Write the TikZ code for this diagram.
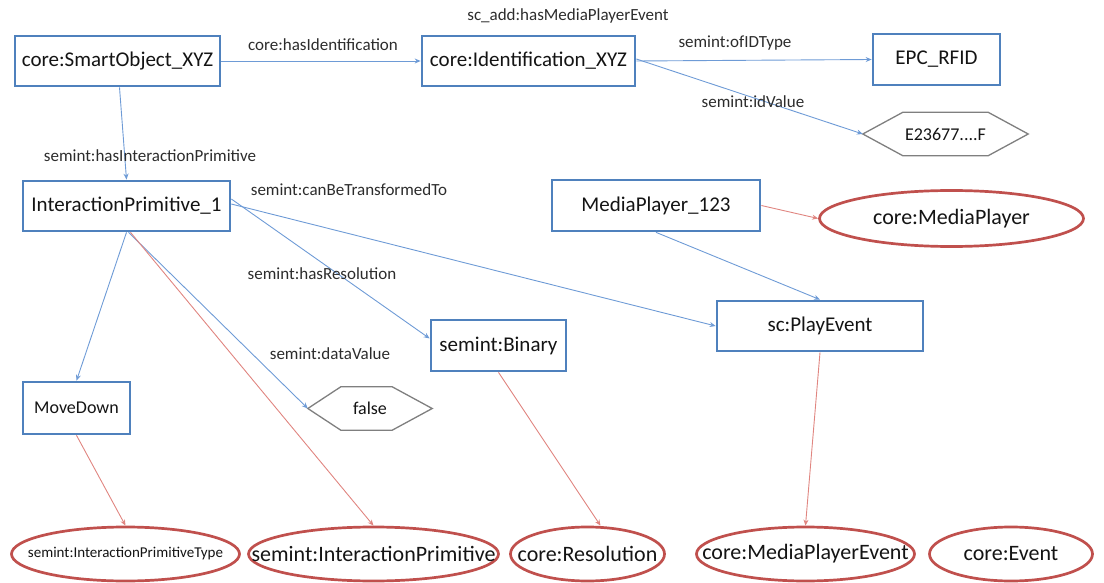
\documentclass[tikz,border=0pt]{standalone}
\usepackage{fontspec}
\setmainfont{Carlito}
\usetikzlibrary{arrows.meta,shapes.geometric}
\definecolor{boxblue}{HTML}{4F81BD}
\definecolor{relblue}{HTML}{6E9BD6}
\definecolor{clsred}{HTML}{C0504D}
\definecolor{typred}{HTML}{E08580}
\definecolor{litgray}{HTML}{7F7F7F}
\definecolor{txt}{HTML}{141414}
\newcommand\ztxt[1]{\makebox[0pt]{#1}}
\begin{document}
\begin{tikzpicture}[x=1pt,y=-1pt,
  every node/.style={text=txt},
  bigfont/.style={font=\fontsize{21}{24}\selectfont},
  objbox/.style={draw=boxblue,line width=2.7pt,fill=white,inner sep=0pt,bigfont},
  clsnode/.style={ellipse,draw=clsred,line width=2.7pt,fill=white,inner sep=0pt,font=\fontsize{22}{24}\selectfont},
  litnode/.style={inner sep=0pt,font=\fontsize{18}{20}\selectfont},
  litline/.style={draw=litgray,line width=1.3pt,line join=miter},
  rellabel/.style={font=\fontsize{17}{19}\selectfont,text=txt!90,inner sep=0pt},
  rel/.style={draw=relblue,line width=0.9pt,-{Stealth[length=6pt,width=5pt]}},
  typ/.style={draw=typred,line width=0.9pt,-{Stealth[length=6pt,width=5pt]}}]
\useasboundingbox (0,0) rectangle (1104,583);
% instance boxes
\node[objbox,minimum width=205pt,minimum height=50pt] (so) at (117.5,61) {core:SmartObject\_XYZ};
\node[objbox,minimum width=213pt,minimum height=50pt] (idn) at (528.5,61) {core:Identification\_XYZ};
\node[objbox,minimum width=127pt,minimum height=51pt] (epc) at (936.5,59.5) {EPC\_RFID};
\node[objbox,minimum width=207pt,minimum height=50pt] (ip) at (126.5,206) {InteractionPrimitive\_1};
\node[objbox,minimum width=208pt,minimum height=51pt] (mp) at (656,205.5) {MediaPlayer\_123};
\node[objbox,minimum width=135pt,minimum height=51pt] (bin) at (498.5,345.5) {semint:Binary};
\node[objbox,minimum width=206pt,minimum height=50pt] (pe) at (820,326) {sc:PlayEvent};
\node[objbox,minimum width=107pt,minimum height=52pt,font=\fontsize{18}{20}\selectfont] (md) at (76.5,408) {MoveDown};
% literals
\node[litnode,minimum width=165pt,minimum height=43pt] (eid) at (945.5,134) {E23677....F};
\draw[litline] (eid.west) -- ([xshift=40pt]eid.north west) -- ([xshift=-40pt]eid.north east) -- (eid.east) -- ([xshift=-40pt]eid.south east) -- ([xshift=40pt]eid.south west) -- cycle;
\node[litnode,minimum width=124pt,minimum height=43pt] (fls) at (370,408.5) {false};
\draw[litline] (fls.west) -- ([xshift=33pt]fls.north west) -- ([xshift=-40pt]fls.north east) -- (fls.east) -- ([xshift=-40pt]fls.south east) -- ([xshift=33pt]fls.south west) -- cycle;
% classes
\node[clsnode,minimum width=264pt,minimum height=56pt] (cmp) at (951.5,218.5) {\ztxt{core:MediaPlayer}};
\node[clsnode,minimum width=228pt,minimum height=54pt] (ipt) at (125.5,554) {\ztxt{\fontsize{15}{17}\selectfont semint:InteractionPrimitiveType}};
\node[clsnode,minimum width=250pt,minimum height=54pt] (ipc) at (373.5,554) {\ztxt{semint:InteractionPrimitive}};
\node[clsnode,minimum width=154pt,minimum height=54pt] (res) at (587.5,554) {\ztxt{core:Resolution}};
\node[clsnode,minimum width=218pt,minimum height=54pt] (mpe) at (805.5,554) {\ztxt{core:MediaPlayerEvent}};
\node[clsnode,minimum width=163pt,minimum height=54pt] (ev) at (1011,554) {\ztxt{core:Event}};
% relations
\draw[rel] (so.east) -- (idn.west);
\draw[rel] (idn.east) -- (epc.west);
\draw[rel] ([yshift=2pt]idn.east) -- (eid.west);
\draw[rel] ([xshift=2pt]so.south) -- (ip.north);
\draw[rel] ([yshift=2pt]ip.east) -- (pe.west);
\draw[rel] ([yshift=7pt]ip.east) -- ([yshift=7pt]bin.west);
\draw[rel] (ip.south) -- (md.north);
\draw[rel] ([xshift=2pt]ip.south) -- (fls.west);
\draw[rel] (mp.south) -- (pe.north);
% typing
\draw[typ] (mp.east) -- (cmp.west);
\draw[typ] ([xshift=4pt]ip.south) -- (ipc.north);
\draw[typ] (md.south) -- (ipt.north);
\draw[typ] (bin.south) -- ([xshift=13pt]res.north);
\draw[typ] (pe.south) -- (mpe.north);
% labels
\node[rellabel] (l1) at (323,45) {core:hasIdentification};
\node[rellabel] (l2) at (735,43) {semint:ofIDType};
\node[rellabel] (l3) at (753,102) {semint:idValue};
\node[rellabel] (l4) at (568,16) {sc\_add:hasMediaPlayerEvent};
\node[rellabel] (l5) at (150,156) {semint:hasInteractionPrimitive};
\node[rellabel] (l6) at (349,190) {semint:canBeTransformedTo};
\node[rellabel] (l7) at (322,274) {semint:hasResolution};
\node[rellabel] (l8) at (330,354) {semint:dataValue};
\end{tikzpicture}
\end{document}
